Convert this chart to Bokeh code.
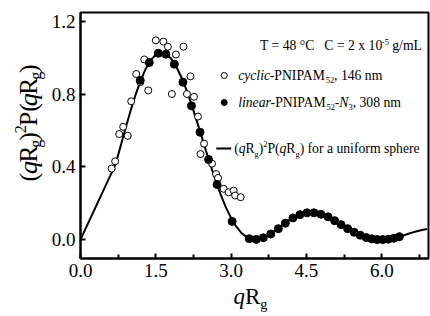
from bokeh.plotting import figure
from bokeh.models import Range1d, FixedTicker, NumeralTickFormatter, Label
from bokeh.layouts import row, column
from bokeh.embed import file_html
from bokeh.resources import INLINE
import math

# ---------------- data ----------------
curve_x = [0.0, 0.7, 0.8, 0.9, 1.0, 1.1, 1.2, 1.3, 1.4, 1.5, 1.6, 1.7, 1.8, 1.9,
           2.0, 2.1, 2.2, 2.3, 2.4, 2.5, 2.6, 2.7, 2.8, 2.9, 3.0, 3.1, 3.2, 3.3,
           3.4, 3.5, 3.6, 3.7, 3.8, 3.9, 4.0, 4.1, 4.2, 4.3, 4.4, 4.5, 4.6, 4.7,
           4.8, 4.9, 5.0, 5.1, 5.2, 5.3, 5.4, 5.5, 5.6, 5.7, 5.8, 5.9, 6.0, 6.1,
           6.2, 6.3, 6.4, 6.5, 6.6, 6.7, 6.8, 6.9]
curve_y = [0.0, 0.415, 0.515, 0.615, 0.711, 0.798, 0.875, 0.939, 0.986, 1.016,
           1.027, 1.020, 0.996, 0.954, 0.898, 0.830, 0.751, 0.666, 0.577, 0.487,
           0.400, 0.317, 0.241, 0.174, 0.118, 0.072, 0.038, 0.015, 0.003, 0.000,
           0.006, 0.018, 0.035, 0.054, 0.076, 0.096, 0.115, 0.131, 0.143, 0.150,
           0.153, 0.150, 0.144, 0.133, 0.119, 0.103, 0.086, 0.068, 0.052, 0.036,
           0.023, 0.013, 0.005, 0.001, 0.000, 0.002, 0.006, 0.013, 0.020, 0.029,
           0.038, 0.046, 0.053, 0.058]

cyclic_x = [0.62, 0.69, 0.77, 0.85, 0.94, 1.01, 1.11, 1.19, 1.27, 1.35, 1.50,
            1.65, 1.74, 1.82, 1.90, 2.05, 2.12, 2.19, 2.26, 2.34, 2.39, 2.46,
            2.62, 2.70, 2.74, 2.85, 2.95, 3.05, 3.08, 3.19]
cyclic_y = [0.39, 0.43, 0.58, 0.62, 0.57, 0.76, 0.91, 0.865, 0.99, 0.82, 1.095,
            1.088, 1.06, 0.80, 1.017, 1.06, 0.80, 0.897, 0.785, 0.676, 0.47, 0.527,
            0.417, 0.36, 0.339, 0.279, 0.26, 0.269, 0.242, 0.233]

linear_x = [1.19, 1.37, 1.55, 1.70, 1.87, 2.04, 2.21, 2.38, 2.55, 2.72, 3.02,
            3.36, 3.50, 3.64, 3.79, 3.94, 4.08, 4.23, 4.37, 4.51, 4.65, 4.79,
            4.93, 5.06, 5.19, 5.32, 5.45, 5.57, 5.69, 5.80, 5.91, 6.02, 6.13,
            6.24, 6.35]
linear_y = [0.875, 0.973, 1.024, 1.019, 0.964, 0.865, 0.735, 0.590, 0.440, 0.303,
            0.100, 0.005, 0.001, 0.010, 0.031, 0.060, 0.090, 0.119, 0.137, 0.147,
            0.147, 0.139, 0.125, 0.104, 0.082, 0.060, 0.040, 0.024, 0.011, 0.004,
            0.000, 0.000, 0.002, 0.007, 0.016]

x_ticks = [0.0, 1.5, 3.0, 4.5, 6.0]
x_minor = [0.75, 2.25, 3.75, 5.25, 6.75]
y_ticks = [0.0, 0.4, 0.8, 1.2]

# ---------------- layout (page pixels) ----------------
YL_W = 48            # strip holding the y title
TOP_H = 284          # height of the plot row
XL_H = 316 - TOP_H   # strip holding the x title
MAIN_W = 430 - YL_W
ML, MR, MT, MB = 29, 2, 12, TOP_H - 258
FRAME_L = YL_W + ML  # 77
FRAME_T = MT         # 12
FW = MAIN_W - ML - MR
FH = TOP_H - MT - MB
X0, X1 = 0.0, 6.93
Y0, Y1 = -0.104, 1.248
FONT = "Liberation Serif"
MID = 0.3375         # distance (em) from alphabetic baseline up to the text middle


def main_x(px):
    return X0 + (px - FRAME_L) / FW * (X1 - X0)


def main_y(py):
    return Y1 - (py - FRAME_T) / FH * (Y1 - Y0)


REG = {' ': 250, '(': 333, ')': 333, ',': 250, '-': 333, '.': 250, '/': 278,
       '=': 564, '°': 400, 'A': 722, 'C': 667, 'I': 333, 'M': 889, 'N': 722,
       'P': 556, 'R': 667, 'T': 611, 'L': 611, 'a': 444, 'c': 444, 'e': 444,
       'f': 333, 'g': 500, 'h': 500, 'i': 278, 'l': 278, 'm': 778, 'n': 500,
       'o': 500, 'p': 500, 'q': 500, 'r': 333, 's': 389, 'u': 500, 'x': 500,
       'y': 500}
ITA = {'a': 500, 'c': 444, 'e': 444, 'i': 278, 'l': 278, 'n': 500, 'q': 500,
       'r': 389, 'y': 444, 'N': 667, '-': 333, ' ': 250}


def tw(s, italic):
    tab = ITA if italic else REG
    return sum(tab.get(ch, REG.get(ch, 500)) for ch in s)


def rich(p, fx, fy, segs, px, py, size, angle=0.0, sub=0.28, sup=0.42, small=0.62):
    """Place a run of text pieces; (px, py) is the alphabetic baseline start."""
    cur = 0.0
    for txt, st in segs:
        is_small = st in ("sub", "sup", "subi")
        italic = st in ("i", "subi")
        fs = size * small if is_small else size
        off = size * sub if st in ("sub", "subi") else (-size * sup if st == "sup" else 0.0)
        off -= MID * fs
        lead = len(txt) - len(txt.lstrip(' '))
        core = txt.strip(' ')
        start = cur + tw(' ' * lead, italic) * fs / 1000.0
        if core:
            if angle == 0:
                sx, sy = px + start, py + off
            else:
                sx, sy = px + off, py - start
            p.add_layout(Label(x=fx(sx), y=fy(sy), text=core, text_font=FONT,
                               text_font_size=f"{fs:.2f}px",
                               text_font_style="italic" if italic else "normal",
                               text_color="black", text_align="left",
                               text_baseline="middle", angle=angle))
        cur += tw(txt, italic) * fs / 1000.0
    return cur


def blank(width, height, xr, yr):
    f = figure(width=width, height=height, x_range=Range1d(*xr), y_range=Range1d(*yr),
               output_backend="svg", toolbar_location=None, x_axis_type=None,
               y_axis_type=None, min_border=0)
    f.xgrid.visible = False
    f.ygrid.visible = False
    f.outline_line_color = None
    f.background_fill_color = "white"
    f.border_fill_color = "white"
    return f


# ---------------- main plot ----------------
p = figure(width=MAIN_W, height=TOP_H, x_range=Range1d(X0, X1), y_range=Range1d(Y0, Y1),
           output_backend="svg", toolbar_location=None,
           min_border_left=ML, min_border_right=MR, min_border_top=MT,
           min_border_bottom=MB)
p.xgrid.visible = False
p.ygrid.visible = False
p.background_fill_color = "white"
p.border_fill_color = "white"
p.outline_line_color = "black"
p.outline_line_width = 2
p.outline_line_alpha = 1.0

for ax in (p.xaxis[0], p.yaxis[0]):
    ax.formatter = NumeralTickFormatter(format="0.0")
    ax.major_label_text_font = FONT
    ax.major_label_text_font_size = "19px"
    ax.major_label_text_color = "black"
    ax.axis_line_width = 2
    ax.axis_line_color = "black"
    ax.major_tick_in = 5
    ax.major_tick_out = 0
    ax.minor_tick_in = 4
    ax.minor_tick_out = 0
    ax.major_tick_line_width = 2
    ax.minor_tick_line_width = 2
    ax.major_tick_line_color = "black"
    ax.minor_tick_line_color = "black"
    ax.major_label_standoff = 5

p.xaxis[0].ticker = FixedTicker(ticks=x_ticks, minor_ticks=x_minor)
p.yaxis[0].ticker = FixedTicker(ticks=y_ticks)
p.yaxis[0].minor_tick_line_color = None

p.line(curve_x, curve_y, line_color="black", line_width=2)
p.scatter(cyclic_x, cyclic_y, marker="circle", size=7, fill_color="white",
          line_color="black", line_width=1)
p.scatter(linear_x, linear_y, marker="circle", size=8, fill_color="black",
          line_color="black", line_width=1)

# legend / annotations inside the frame
LS = 13.7
rich(p, main_x, main_y, [("T = 48 °C", "n")], 258, 50, LS)
c_start = 258 + tw("T = 48 °C   ", False) * LS / 1000.0
rich(p, main_x, main_y, [("C = 2 x 10", "n"), ("-5", "sup"), (" g/mL", "n")],
     c_start, 50, LS, sup=0.38)

p.scatter([main_x(222)], [main_y(75)], marker="circle", size=6, fill_color="white",
          line_color="black", line_width=1)
rich(p, main_x, main_y, [("cyclic", "i"), ("-PNIPAM", "n"), ("52", "sub"),
                         (", 146 nm", "n")], 236, 79.5, LS, sub=0.22)

p.scatter([main_x(222)], [main_y(102)], marker="circle", size=6, fill_color="black",
          line_color="black", line_width=1)
rich(p, main_x, main_y, [("linear", "i"), ("-PNIPAM", "n"), ("52", "sub"), ("-", "n"),
                         ("N", "i"), ("3", "sub"), (", 308 nm", "n")],
     236, 106.5, LS, sub=0.22)

p.line([main_x(214), main_x(229)], [main_y(148), main_y(148)], line_color="black",
       line_width=2)
rich(p, main_x, main_y, [("(", "n"), ("q", "i"), ("R", "n"), ("g", "sub"), (")", "n"),
                         ("2", "sup"), ("P(", "n"), ("q", "i"), ("R", "n"), ("g", "sub"),
                         (")", "n"), (" for a uniform sphere", "n")],
     232, 152.5, LS, sub=0.3)

# ---------------- y title strip ----------------
yl = blank(YL_W, TOP_H, (0, YL_W), (TOP_H, 0))
rich(yl, lambda v: v, lambda v: v,
     [("(", "n"), ("q", "i"), ("R", "n"), ("g", "sub"), (")", "n"),
      ("2", "sup"), ("P(", "n"), ("q", "i"), ("R", "n"), ("g", "sub"), (")", "n")],
     37, 195, 26, angle=math.pi / 2, sub=0.15, sup=0.45)

# ---------------- x title strip ----------------
xl = blank(430, XL_H, (0, 430), (TOP_H + XL_H, TOP_H))
rich(xl, lambda v: v, lambda v: v, [("q", "i"), ("R", "n"), ("g", "sub")],
     233, 303.5, 23, sub=0.22)

layout = column(row(yl, p), xl)
open("out.html", "w").write(file_html(layout, INLINE))
